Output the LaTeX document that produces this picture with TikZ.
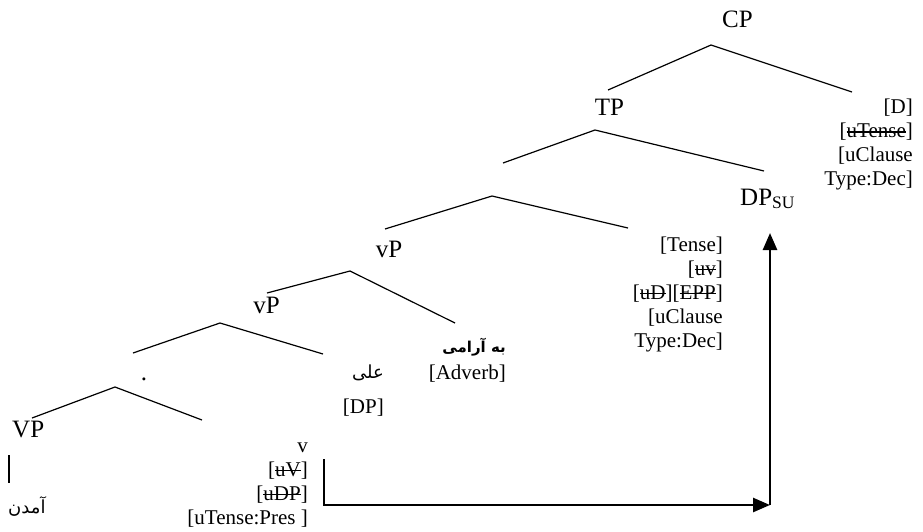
\documentclass[tikz,border=0pt]{standalone}
\usepackage{fontspec}
\setmainfont{Liberation Serif}
\newfontfamily\arabicfont[Script=Arabic]{DejaVu Sans}
\usetikzlibrary{arrows.meta}
\TeXXeTstate=1
\newcommand{\fa}[2][18]{{\arabicfont\fontsize{#1}{24}\selectfont\beginR #2\endR}}
% checked (deleted) feature
\newcommand{\strk}[1]{\leavevmode\setbox0\hbox{#1}\rlap{\rule[0.24em]{\wd0}{0.06em}}\box0}

\begin{document}
\begin{tikzpicture}[
    x=1pt, y=-1pt,
    catlabel/.style={inner sep=0pt, font=\fontsize{25}{28}\selectfont},
    featbox/.style={inner sep=0pt, align=right, anchor=north east, font=\fontsize{21}{24}\selectfont},
    branch/.style={line width=1.2pt},
    movearrow/.style={line width=2.6pt, -{Triangle[length=17pt,width=14pt]}}
]
\useasboundingbox (0,0) rectangle (923,531);

% Category labels
\node[catlabel, anchor=base] (cp) at (737.5,27) {CP};
\node[catlabel, anchor=base] (tp) at (609.5,115) {TP};
\node[catlabel, anchor=base west] (dpsu) at (740,205) {DP\textsubscript{SU}};
\node[catlabel, anchor=base] (vpup) at (389,257) {vP};
\node[catlabel, anchor=base] (vplow) at (266.5,313) {vP};
\node[catlabel, anchor=base] (vbar) at (144,380) {.};
\node[catlabel, anchor=base west] (vp) at (12,437) {VP};
\node[inner sep=0pt, anchor=base west] (verb) at (8,513) {\fa{آمدن}};

% Heads and their features
\node[featbox] (chead) at (913,96.7) {\strut[D]\\{}[\strk{uTense}]\\{}[uClause\\Type:Dec]};
\node[featbox] (thead) at (723,234.5) {\strut[Tense]\\{}[\strk{uv}]\\{}[\strk{uD}][\strk{EPP}]\\{}[uClause\\Type:Dec]};
\node[featbox] (adverb) at (506,335.2) {\strut\fa[15]{\bfseries به آرامی}\\[3.5pt][Adverb]};
\node[featbox] (object) at (384,361.2) {\strut\fa{علی}\\[11pt][DP]};
\node[featbox] (vhead) at (308,435) {\strut v\\{}[\strk{uV}]\\{}[\strk{uDP}]\\{}[uTense:Pres\ ]};

% Branch points
\coordinate (cp-top) at (711,45);   \coordinate (cp-L) at (608,90);   \coordinate (cp-R) at (852,92);
\coordinate (tp-top) at (595,130);  \coordinate (tp-L) at (503,163);  \coordinate (tp-R) at (764,171);
\coordinate (tb-top) at (492,196);  \coordinate (tb-L) at (385,229);  \coordinate (tb-R) at (628,228);
\coordinate (vu-top) at (350,271);  \coordinate (vu-L) at (267,293);  \coordinate (vu-R) at (455,323);
\coordinate (vl-top) at (220,323);  \coordinate (vl-L) at (133,353);  \coordinate (vl-R) at (323,354);
\coordinate (dt-top) at (115,387);  \coordinate (dt-L) at (32,418);   \coordinate (dt-R) at (202,420);

\foreach \n in {cp,tp,tb,vu,vl,dt}
  \draw[branch] (\n-L) -- (\n-top) -- (\n-R);

% VP to the verb
\coordinate (bar-top) at (9,455);
\coordinate (bar-bot) at (9,483);
\draw[branch] (bar-top) -- (bar-bot);

% Movement of the subject
\coordinate (move-start) at (324,459);
\coordinate (move-corner) at (770,505);
\coordinate (move-end) at (770,233);
\draw[movearrow] (move-start) |- (move-corner);
\draw[movearrow] (move-corner) -- (move-end);

\end{tikzpicture}
\end{document}
